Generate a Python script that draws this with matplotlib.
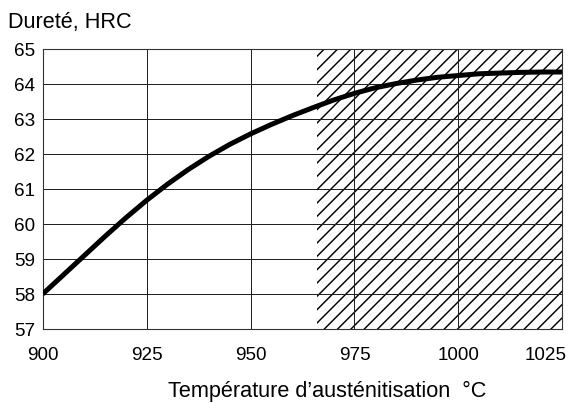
import numpy as np
import matplotlib
matplotlib.use("Agg")
import matplotlib.pyplot as plt
import matplotlib.transforms as mtransforms

# données
temperature = [900, 905, 910, 915, 920, 925, 930, 935, 940, 945, 950, 955, 960,
               965, 970, 975, 980, 985, 990, 995, 1000, 1005, 1010, 1015, 1020, 1025]
durete = [58.0, 58.55, 59.1, 59.65, 60.18, 60.68, 61.14, 61.56, 61.94, 62.28, 62.58, 62.85, 63.1,
          63.33, 63.55, 63.74, 63.9, 64.02, 64.12, 64.2, 64.25, 64.3, 64.32, 64.34, 64.35, 64.35]

zone_hachuree = (966, 1025)
x_ticks = [900, 925, 950, 975, 1000, 1025]
y_ticks = [57, 58, 59, 60, 61, 62, 63, 64, 65]

DPI = 80
plt.rcParams['font.family'] = ['Liberation Sans', 'DejaVu Sans']
plt.rcParams['hatch.linewidth'] = 1.3
plt.rcParams['hatch.color'] = 'black'

fig = plt.figure(figsize=(571 / DPI, 403 / DPI), dpi=DPI)
ax = fig.add_axes([42.7 / 571, 1 - 329 / 403, (562.3 - 42.7) / 571, (329 - 49.3) / 403])

# zone hachurée
ax.axvspan(zone_hachuree[0], zone_hachuree[1], facecolor='none', edgecolor='black',
           hatch='//', linewidth=0, zorder=1)

# grille
for xt in x_ticks:
    ax.axvline(xt, color='#222222', linewidth=0.9, zorder=2)
for yt in y_ticks:
    ax.axhline(yt, color='#222222', linewidth=0.9, zorder=2)

ax.plot(temperature, durete, color='black', linewidth=4.5, solid_capstyle='butt',
        solid_joinstyle='round', zorder=3)

ax.set_xlim(900, 1025)
ax.set_ylim(57, 65)
ax.set_xticks(x_ticks)
ax.set_yticks(y_ticks)
ax.tick_params(axis='x', length=0, pad=16, labelsize=17)
ax.tick_params(axis='y', length=0, pad=7, labelsize=17)
for s in ax.spines.values():
    s.set_color('#333333')
    s.set_linewidth(1.0)

# le dernier libellé est décalé vers la gauche pour rester dans l'image
last = ax.get_xticklabels()[-1]
last.set_transform(last.get_transform() + mtransforms.ScaledTranslation(-17 / DPI, 0, fig.dpi_scale_trans))

fig.text(8 / 571, 1 - 28 / 403, 'Dureté, HRC', fontsize=19.5, ha='left', va='baseline')
fig.text(168 / 571, 1 - 397 / 403, 'Température d’austénitisation  °C', fontsize=19.5,
         ha='left', va='baseline')

fig.savefig('out.png', dpi=DPI)
